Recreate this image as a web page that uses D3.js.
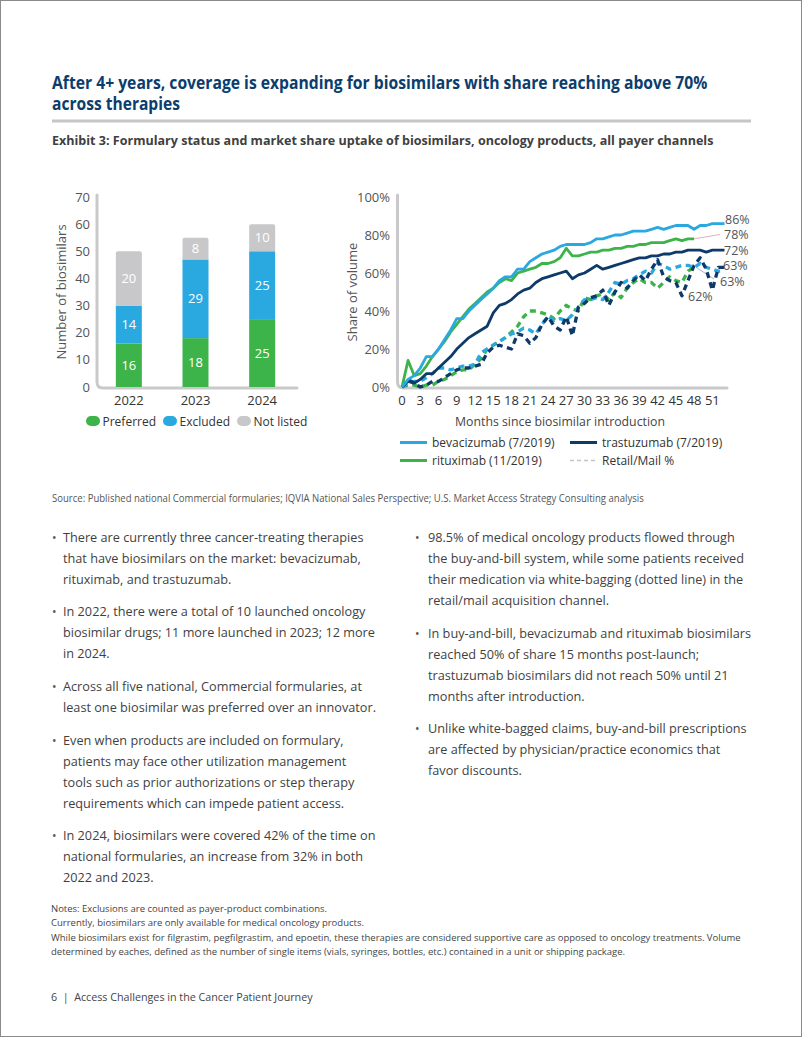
<!DOCTYPE html>
<html><head><meta charset="utf-8">
<script src="https://cdn.jsdelivr.net/npm/d3@7"></script>
<style>html,body{margin:0;padding:0;background:#fff}svg{display:block}text{font-family:"Open Sans",sans-serif}</style>
</head><body>
<script>
// ---------- DATA ----------
const years = ["2022","2023","2024"];
const preferred = [16,18,25];
const excluded = [14,29,25];
const notListed = [20,8,10];
const barTicks = [0,10,20,30,40,50,60,70];

const bevacizumab = [0,4,6,10,16,16,20,25,30,36,36,40,43,46,49,52,56,58,58,62,62,66,68,70,71,72,74,75,75,75,75,76,78,78,79,80,80,81,82,82,82,83,84,83,84,85,85,85,83,85,85,86,86,86];
const rituximab = [0,14,6,7,11,16,20,24,29,33,37,41,44,47,50,52,55,57,56,60,61,62,63,65,65,66,68,73,69,69,70,71,71,72,72,73,73,74,74,75,75,76,76,76,77,78,77,78,78];
const trastuzumab = [0,3,2,4,7,7,10,13,16,20,23,26,28,30,32,39,43,44,46,49,51,52,55,57,58,59,60,61,57,59,60,62,64,62,63,64,65,66,67,68,68,69,69,70,70,71,71,72,72,72,71,72,72,72];
const bevaRetail = [0,2,3,3,5,7,10,10,9,10,11,11,12,18,20,22,24,26,28,29,31,30,28,33,37,35,36,35,38,42,46,46,47,46,50,55,54,56,57,59,61,60,65,64,62,63,64,64,63,65,63,62,61,61];
const rituRetail = [0,1,1,0,1,1,3,4,6,8,9,9,12,15,20,22,24,26,29,32,37,40,40,39,38,36,40,43,41,40,47,46,48,49,46,50,47,52,55,57,55,55,52,55,58,56,55,61,63];
const trasRetail = [0,4,2,0,1,3,3,5,7,9,10,10,11,12,18,21,22,21,20,28,27,23,26,33,37,32,30,37,27,42,44,47,48,51,43,50,55,52,56,59,56,62,67,58,56,55,48,56,64,68,62,51,63,63];
const monthTicks = [0,3,6,9,12,15,18,21,24,27,30,33,36,39,42,45,48,51];
const shareTicks = [0,20,40,60,80,100];
const endLabels = ["86%","78%","72%","63%","63%","62%"];

const leftBullets = [
 ["There are currently three cancer-treating therapies","that have biosimilars on the market: bevacizumab,","rituximab, and trastuzumab."],
 ["In 2022, there were a total of 10 launched oncology","biosimilar drugs; 11 more launched in 2023; 12 more","in 2024."],
 ["Across all five national, Commercial formularies, at","least one biosimilar was preferred over an innovator."],
 ["Even when products are included on formulary,","patients may face other utilization management","tools such as prior authorizations or step therapy","requirements which can impede patient access."],
 ["In 2024, biosimilars were covered 42% of the time on","national formularies, an increase from 32% in both","2022 and 2023."]
];
const rightBullets = [
 ["98.5% of medical oncology products flowed through","the buy-and-bill system, while some patients received","their medication via white-bagging (dotted line) in the","retail/mail acquisition channel."],
 ["In buy-and-bill, bevacizumab and rituximab biosimilars","reached 50% of share 15 months post-launch;","trastuzumab biosimilars did not reach 50% until 21","months after introduction."],
 ["Unlike white-bagged claims, buy-and-bill prescriptions","are affected by physician/practice economics that","favor discounts."]
];
const notes = ["Notes: Exclusions are counted as payer-product combinations.",
 "Currently, biosimilars are only available for medical oncology products.",
 "While biosimilars exist for filgrastim, pegfilgrastim, and epoetin, these therapies are considered supportive care as opposed to oncology treatments. Volume",
 "determined by eaches, defined as the number of single items (vials, syringes, bottles, etc.) contained in a unit or shipping package."];

// ---------- STYLE ----------
const C = {green:"#3cb44a", blue:"#2aa8e0", grey:"#c8c8ca", navy:"#0e3a6a", axis:"#c9c9cc", text:"#3f3f3f", tick:"#555"};

const svg = d3.select("body").append("svg").attr("width",802).attr("height",1037);
svg.append("rect").attr("x",0.5).attr("y",0.5).attr("width",801).attr("height",1036).attr("fill","#fff").attr("stroke","#8a8a8a");

// condensed text helper: scale horizontally to a target width
function fitText(x, y, size, weight, fill, target, str){
  const g = svg.append("g");
  const t = g.append("text").attr("x",0).attr("y",0).attr("font-size",size).attr("font-weight",weight).attr("fill",fill).text(str);
  const w = t.node().getComputedTextLength();
  g.attr("transform",`translate(${x},${y}) scale(${target/w},1)`);
  return t;
}
fitText(52,89,17.5,700,"#0b3d6d",656,"After 4+ years, coverage is expanding for biosimilars with share reaching above 70%");
fitText(52,110,17.5,700,"#0b3d6d",128,"across therapies");
svg.append("line").attr("x1",52).attr("x2",751).attr("y1",121).attr("y2",121).attr("stroke","#c6c6c6").attr("stroke-width",3);
fitText(52,145,13,700,"#404040",662,"Exhibit 3: Formulary status and market share uptake of biosimilars, oncology products, all payer channels");

// ---------- BAR CHART ----------
const xb = d3.scaleBand().domain(years).range([95.5,295.5]).paddingInner(0.61).paddingOuter(0.305);
const yb = d3.scaleLinear().domain([0,70]).range([387,197]);
const gb = svg.append("g");
gb.append("path").attr("d",`M97,195 L97,382 Q97,388 103,388 L297,388`).attr("fill","none").attr("stroke",C.axis).attr("stroke-width",3).attr("stroke-linecap","round");
gb.selectAll("text.yt").data(barTicks).join("text").attr("class","yt").attr("x",90).attr("y",d=>yb(d)+4.5)
  .attr("text-anchor","end").attr("font-size",13).attr("fill",C.tick).text(d=>d);
const stackData = years.map((y,i)=>({year:y, segs:[
  {v0:0,v1:preferred[i],c:C.green,v:preferred[i]},
  {v0:preferred[i],v1:preferred[i]+excluded[i],c:C.blue,v:excluded[i]},
  {v0:preferred[i]+excluded[i],v1:preferred[i]+excluded[i]+notListed[i],c:C.grey,v:notListed[i],top:true}]}));
stackData.forEach(d=>{
  d.segs.forEach(s=>{
    const x=xb(d.year), w=xb.bandwidth(), y1=yb(s.v1), y0=yb(s.v0);
    if(s.top){
      gb.append("path").attr("d",`M${x},${y0} L${x},${y1+2} Q${x},${y1} ${x+2},${y1} L${x+w-2},${y1} Q${x+w},${y1} ${x+w},${y1+2} L${x+w},${y0} Z`).attr("fill",s.c);
    } else gb.append("rect").attr("x",x).attr("y",y1).attr("width",w).attr("height",y0-y1).attr("fill",s.c);
    gb.append("text").attr("x",x+w/2).attr("y",(y0+y1)/2+4.5).attr("text-anchor","middle").attr("font-size",13).attr("fill","#fff").text(s.v);
  });
});
gb.selectAll("text.xt").data(years).join("text").attr("class","xt").attr("x",d=>xb(d)+xb.bandwidth()/2).attr("y",405)
  .attr("text-anchor","middle").attr("font-size",13).attr("fill","#333").text(d=>d);
gb.append("text").attr("transform","translate(66,292) rotate(-90)").attr("text-anchor","middle").attr("font-size",13).attr("fill",C.tick).text("Number of biosimilars");
const barLeg = [{t:"Preferred",c:C.green,x:86},{t:"Excluded",c:C.blue,x:163},{t:"Not listed",c:C.grey,x:237}];
barLeg.forEach(l=>{
  gb.append("rect").attr("x",l.x).attr("y",416).attr("width",14).attr("height",10).attr("rx",5).attr("fill",l.c);
  gb.append("text").attr("x",l.x+16.5).attr("y",425.5).attr("font-size",12).attr("fill","#333").text(l.t);
});

// ---------- LINE CHART ----------
const xl = d3.scaleLinear().domain([0,53]).range([402,402+53*6.085]);
const yl = d3.scaleLinear().domain([0,100]).range([387,197]);
const gl = svg.append("g");
gl.append("path").attr("d",`M397.5,195 L397.5,382 Q397.5,388 403.5,388 L727,388`).attr("fill","none").attr("stroke",C.axis).attr("stroke-width",3).attr("stroke-linecap","round");
gl.selectAll("text.yt").data(shareTicks).join("text").attr("class","yt").attr("x",390).attr("y",d=>yl(d)+4.5)
  .attr("text-anchor","end").attr("font-size",13).attr("fill",C.tick).text(d=>d+"%");
gl.selectAll("text.xt").data(monthTicks).join("text").attr("class","xt").attr("x",d=>xl(d)).attr("y",405)
  .attr("text-anchor","middle").attr("font-size",13).attr("fill","#333").text(d=>d);
gl.append("text").attr("transform","translate(357,292) rotate(-90)").attr("text-anchor","middle").attr("font-size",13).attr("fill",C.tick).text("Share of volume");
gl.append("text").attr("x",560).attr("y",426).attr("text-anchor","middle").attr("font-size",12.3).attr("fill","#444").text("Months since biosimilar introduction");

const line = d3.line().x((d,i)=>xl(i)).y(d=>yl(d)).curve(d3.curveLinear);
gl.append("line").attr("x1",xl(rituximab.length-1)).attr("y1",yl(rituximab[rituximab.length-1])).attr("x2",720).attr("y2",234.5).attr("stroke","#dcb0bd").attr("stroke-width",1);
gl.append("line").attr("x1",xl(rituRetail.length-1)+2).attr("y1",yl(rituRetail[rituRetail.length-1])).attr("x2",714).attr("y2",279).attr("stroke","#b5b5b5").attr("stroke-width",1);

const series = [
 {d:rituRetail,c:C.green,dash:"6,4.5"},
 {d:bevaRetail,c:C.blue,dash:"6,4.5"},
 {d:trasRetail,c:C.navy,dash:"6,4.5"},
 {d:trastuzumab,c:C.navy},
 {d:rituximab,c:C.green},
 {d:bevacizumab,c:C.blue}
];
series.forEach(s=>{
  gl.append("path").datum(s.d).attr("d",line).attr("fill","none").attr("stroke",s.c)
    .attr("stroke-width",s.dash?3.3:2.8).attr("stroke-dasharray",s.dash||null).attr("stroke-linejoin","round");
});
const endPos = [[725,223.5],[724,239],[724,254.5],[723,270],[720,285.5],[688,301]];
endLabels.forEach((t,i)=>gl.append("text").attr("x",endPos[i][0]).attr("y",endPos[i][1]).attr("font-size",12.5).attr("fill","#555").text(t));

const lineLeg = [
 {t:"bevacizumab (7/2019)",c:C.blue,x:400,y:442.5},
 {t:"trastuzumab (7/2019)",c:C.navy,x:570,y:442.5},
 {t:"rituximab (11/2019)",c:C.green,x:400,y:460.5},
 {t:"Retail/Mail %",c:"#c4c4c4",x:570,y:460.5,dash:true}
];
lineLeg.forEach(l=>{
  gl.append("line").attr("x1",l.x).attr("x2",l.x+27).attr("y1",l.y).attr("y2",l.y).attr("stroke",l.c)
    .attr("stroke-width",l.dash?1.5:3).attr("stroke-dasharray",l.dash?"4,3":null);
  gl.append("text").attr("x",l.x+32).attr("y",l.y+4.5).attr("font-size",12).attr("fill","#333").text(l.t);
});

fitText(52,502,10,400,"#555",593,"Source: Published national Commercial formularies; IQVIA National Sales Perspective; U.S. Market Access Strategy Consulting analysis");

function bullets(groups, bx, tx, starts){
  groups.forEach((g,gi)=>{
    const y0 = starts[gi];
    svg.append("text").attr("x",bx).attr("y",y0+4.5).attr("font-size",12).attr("fill","#555").text("•");
    g.forEach((ln,li)=>svg.append("text").attr("x",tx).attr("y",y0+4.5+li*21).attr("font-size",12.7).attr("fill",C.text).text(ln));
  });
}
bullets(leftBullets,52,63,[537,611,686,740,835]);
bullets(rightBullets,415,428,[537,633,728]);

notes.forEach((n,i)=>svg.append("text").attr("x",51).attr("y",[912,926,941,955][i]).attr("font-size",9.5).attr("fill","#444").text(n));
fitText(51,1001,11.5,400,"#444",262,"6 \u00a0|\u00a0 Access Challenges in the Cancer Patient Journey");
</script>
</body></html>
